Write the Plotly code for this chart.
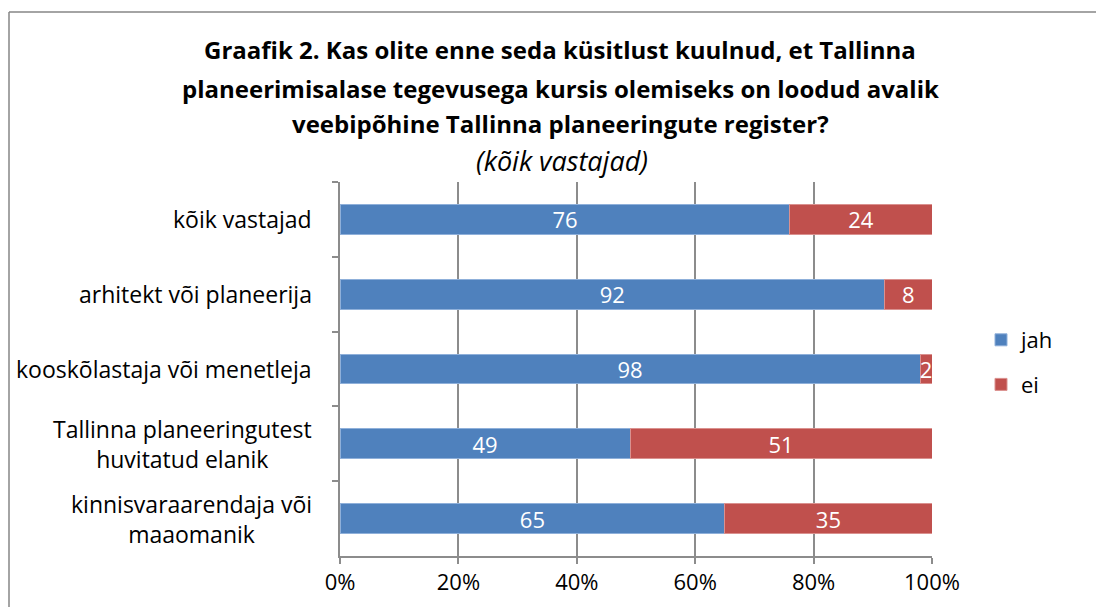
import plotly.graph_objects as go

categories = [
    "kõik vastajad",
    "arhitekt või planeerija",
    "kooskõlastaja või menetleja",
    "Tallinna planeeringutest<br>huvitatud elanik",
    "kinnisvaraarendaja või<br>maaomanik",
]
jah = [76, 92, 98, 49, 65]
ei = [24, 8, 2, 51, 35]
series_names = ["jah", "ei"]
tick_vals = [0, 20, 40, 60, 80, 100]
tick_text = ["0%", "20%", "40%", "60%", "80%", "100%"]
title_lines = [
    "Graafik 2. Kas olite enne seda küsitlust kuulnud, et Tallinna",
    "planeerimisalase tegevusega kursis olemiseks on loodud avalik",
    "veebipõhine Tallinna planeeringute register?",
]
subtitle = "(kõik vastajad)"

FONT = "Open Sans"
OFF = 8  # page body margin
W, H = 1104 - 2 * OFF, 615 - 2 * OFF
# screen pixel positions of the plot area
SX0, SX1, SY0, SY1 = 340, 932, 182, 556
L = SX0 - OFF
R = W - (SX1 - OFF)
T = SY0 - OFF
B = H - (SY1 - OFF)
PW, PH = SX1 - SX0, SY1 - SY0

def px_x(px):
    return (px - SX0) / PW

def px_y(py):
    return (SY1 - py) / PH

cat_ids = list(range(len(categories)))

fig = go.Figure()
fig.add_trace(go.Bar(
    y=cat_ids, x=jah, orientation="h", name=series_names[0],
    marker=dict(color="#4F81BD", line=dict(color="#8FB0DA", width=1)),
    text=[str(v) for v in jah], textposition="inside", insidetextanchor="middle",
    textangle=0, constraintext="none",
    textfont=dict(color="white", size=22, family=FONT),
    legendgroup="a", width=0.4,
))
fig.add_trace(go.Bar(
    y=cat_ids, x=ei, orientation="h", name=series_names[1],
    marker=dict(color="#C0504D", line=dict(color="#DA918F", width=1)),
    text=[str(v) for v in ei], textposition="inside", insidetextanchor="middle",
    textangle=0, constraintext="none",
    textfont=dict(color="white", size=22, family=FONT),
    legendgroup="b", width=0.4,
))

annotations = []
title_y = [50, 88, 123]
for line, py in zip(title_lines, title_y):
    annotations.append(dict(
        text="<b>" + line + "</b>", x=px_x(560), y=px_y(py), xref="paper", yref="paper",
        xanchor="center", yanchor="middle", showarrow=False,
        font=dict(family=FONT, size=24, color="black"),
    ))
annotations.append(dict(
    text="<i>" + subtitle + "</i>", x=px_x(562), y=px_y(160), xref="paper", yref="paper",
    xanchor="center", yanchor="middle", showarrow=False,
    font=dict(family=FONT, size=27, color="black"),
))
for i, c in enumerate(categories):
    annotations.append(dict(
        text=c, x=px_x(314), y=i, xref="paper", yref="y",
        xanchor="right", yanchor="middle", align="center", showarrow=False,
        font=dict(family=FONT, size=23, color="black"),
    ))

border = dict(color="#868686", width=1.5)
fig.update_layout(
    width=W, height=H,
    margin=dict(l=L, r=R, t=T, b=B),
    barmode="stack",
    plot_bgcolor="white", paper_bgcolor="white",
    font=dict(family=FONT, size=20, color="black"),
    bargap=0.6,
    legend=dict(
        x=px_x(981), y=px_y(319), xanchor="left", yanchor="top",
        font=dict(family=FONT, size=22, color="black"),
        traceorder="grouped", tracegroupgap=13, itemwidth=30,
        bgcolor="rgba(0,0,0,0)",
    ),
    annotations=annotations,
    shapes=[
        dict(type="line", xref="paper", yref="paper",
             x0=px_x(OFF + 1), x1=px_x(OFF + 1), y0=px_y(OFF + H), y1=px_y(12), line=border),
        dict(type="line", xref="paper", yref="paper",
             x0=px_x(OFF + 1), x1=px_x(OFF + W), y0=px_y(12), y1=px_y(12), line=border),
    ],
)
fig.update_xaxes(
    range=[0, 100], tickvals=tick_vals, ticktext=tick_text,
    showgrid=True, gridcolor="#8C8C8C", gridwidth=1.5,
    showline=True, linecolor="#8C8C8C", linewidth=1.5,
    ticks="outside", ticklen=6, tickcolor="#8C8C8C", tickwidth=1.5,
    tickfont=dict(family=FONT, size=22, color="black"),
    zeroline=False, fixedrange=True,
)
fig.update_yaxes(
    type="category", categoryorder="array", categoryarray=cat_ids,
    autorange="reversed", showticklabels=False,
    showline=True, linecolor="#8C8C8C", linewidth=1.5,
    ticks="outside", ticklen=6, tickcolor="#8C8C8C", tickwidth=1.5,
    tickson="boundaries", showgrid=False, zeroline=False,
)

fig.write_html("out.html")
